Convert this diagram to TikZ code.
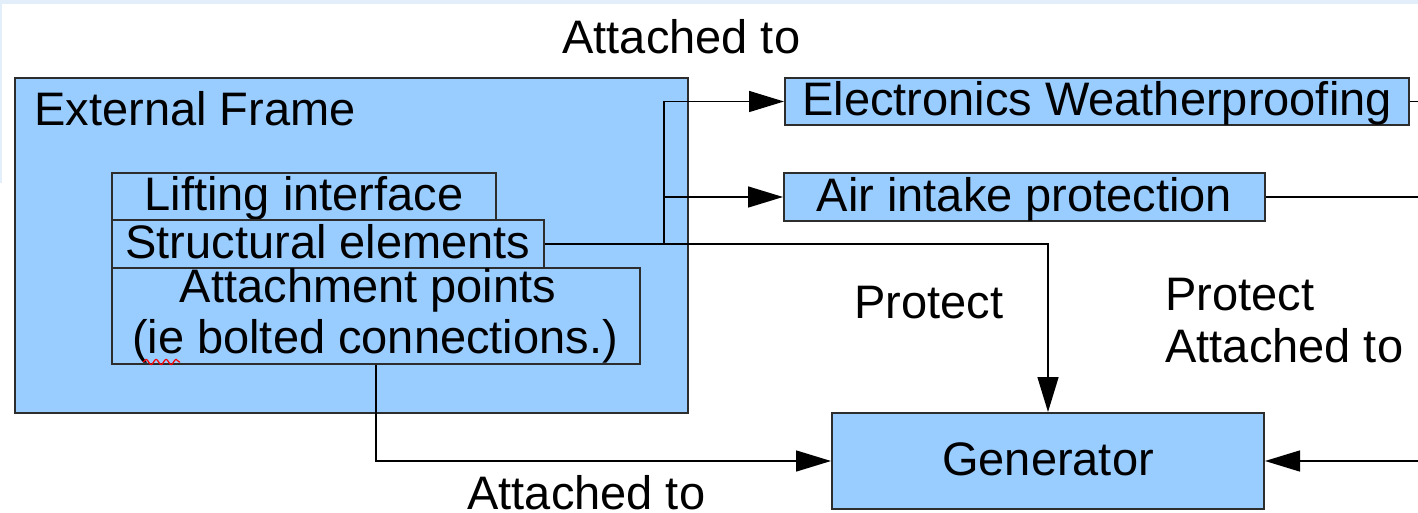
\documentclass[tikz,border=0pt]{standalone}
\usepackage{fontspec}
\setmainfont{Liberation Sans}
\usetikzlibrary{arrows.meta,decorations.pathmorphing}
\definecolor{boxfill}{RGB}{153,204,255}
\definecolor{edgec}{RGB}{45,45,45}
\definecolor{stripc}{RGB}{226,238,250}
\newcommand\fsz{\fontsize{23.5}{26}\selectfont}
\begin{document}
\begin{tikzpicture}[x=0.5pt,y=-0.5pt,
  box/.style={draw=edgec, line width=1pt, fill=boxfill, inner sep=0pt, anchor=north west,
              font=\fsz, text height=18.8pt, text depth=4.7pt},
  lbl/.style={inner sep=0pt, anchor=base west, font=\fsz},
  conn/.style={draw=black, line width=0.75pt},
  arr/.style={conn, -{Triangle[length=17.5pt,width=10.5pt]}}]
\useasboundingbox (0,0) rectangle (1418,513);
\fill[stripc] (0,0) rectangle (1418,4);
\fill[stripc] (0,0) rectangle (2,183);

% boxes
\node[box, minimum width=336.5pt, minimum height=167.5pt] (frame) at (14,77) {};
\node[lbl] (frametitle) at (34,126) {External Frame};
\node[box, minimum width=192pt, minimum height=23.5pt] (lift) at (111,172) {Lifting interface\hspace{9pt}};
\node[box, minimum width=216pt, minimum height=24pt] (str) at (111,219) {Structural elements};
\node[box, minimum width=264pt, minimum height=48pt] (att) at (111,267) {};
\node[lbl, anchor=base] (atttxt1) at (368,302) {Attachment points};
\node[lbl, anchor=base] (atttxt2) at (375,353) {(ie bolted connections.)};
\draw[red, line width=0.6pt, decorate, decoration={snake, amplitude=1.3pt, segment length=5pt}] (143,362) -- (180,362);

\node[box, minimum width=312pt, minimum height=23pt] (elec) at (784,77) {Electronics Weatherproofing};
\node[box, minimum width=240.5pt, minimum height=24pt] (air) at (783,172) {Air intake protection};
\node[box, minimum width=216pt, minimum height=48pt] (gen) at (831,412) {Generator};

% labels
\node[lbl] (l1) at (562,54) {Attached to};
\node[lbl] (l2) at (854,318) {Protect};
\node[lbl] (l3) at (1165,310) {Protect};
\node[lbl] (l4) at (1165,362) {Attached to};
\node[lbl] (l5) at (467,509) {Attached to};

% connectors
\coordinate (br) at (664,243);
\coordinate (edgeR) at (1418,0);
\draw[arr] (str.east) -| (gen.north);
\draw[arr] (br) |- (elec.west);
\draw[arr] (br |- air.west) -- (air.west);
\draw[arr] (att.south) |- (gen.west);
\draw[conn] (elec.east) -- (elec.east -| edgeR);
\draw[conn] (air.east) -- (air.east -| edgeR);
\draw[arr] (gen.east -| edgeR) -- (gen.east);
\end{tikzpicture}
\end{document}
